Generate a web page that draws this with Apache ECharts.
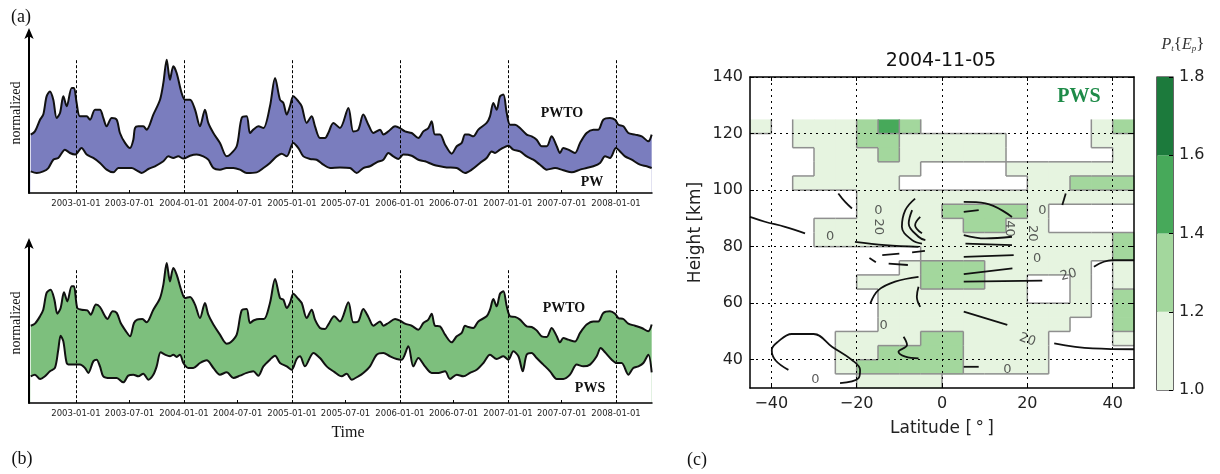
<!DOCTYPE html>
<html>
<head>
<meta charset="utf-8">
<script src="https://cdn.jsdelivr.net/npm/echarts@6/dist/echarts.min.js"></script>
<style>
html, body { margin: 0; padding: 0; background: #fff; }
#chart { width: 1220px; height: 474px; }
</style>
</head>
<body>
<div id="chart"></div>
<script>
// ---- panels (a) and (b): time in decimal years, normalized values 0..100 ----
const xTickLabels = ['2003-01-01', '2003-07-01', '2004-01-01', '2004-07-01', '2005-01-01', '2005-07-01',
  '2006-01-01', '2006-07-01', '2007-01-01', '2007-07-01', '2008-01-01'];
const yearLines = [2003, 2004, 2005, 2006, 2007, 2008];

const pwtoA = [[2002.581,36.5],[2002.620,38.5],[2002.667,45.8],[2002.697,49],[2002.728,60.4],[2002.759,63.5],[2002.790,58.3],[2002.821,46.9],[2002.852,50],[2002.883,60.4],[2002.914,54.2],[2002.960,65.6],[2002.981,65.6],[2003.006,56.3],[2003.037,47.9],[2003.099,47.9],[2003.130,45.8],[2003.176,52.1],[2003.222,52.1],[2003.253,46.9],[2003.284,41.7],[2003.331,46.9],[2003.377,45.8],[2003.407,37.5],[2003.454,31.3],[2003.500,28.1],[2003.531,33.3],[2003.546,40.6],[2003.577,41.7],[2003.623,41.7],[2003.654,39.6],[2003.716,49],[2003.778,58.3],[2003.809,68.8],[2003.840,83.3],[2003.870,70.8],[2003.901,79.2],[2003.932,75],[2003.978,62.5],[2004.009,58.3],[2004.056,58.3],[2004.102,52.1],[2004.148,41.7],[2004.194,52.1],[2004.225,43.8],[2004.272,37.5],[2004.333,31.3],[2004.395,22.9],[2004.426,24],[2004.488,29.2],[2004.534,46.9],[2004.580,47.9],[2004.611,37.5],[2004.642,39.6],[2004.688,41.7],[2004.735,40.6],[2004.796,54.2],[2004.843,71.9],[2004.889,58.3],[2004.920,56.3],[2004.951,49],[2004.981,54.2],[2005.012,60.4],[2005.059,57.3],[2005.090,54.2],[2005.136,43.8],[2005.182,47.9],[2005.213,41.7],[2005.259,34.4],[2005.306,34.4],[2005.336,37.5],[2005.383,43.8],[2005.444,40.6],[2005.522,53.1],[2005.568,38.5],[2005.614,39.6],[2005.660,49],[2005.707,42.7],[2005.753,37.5],[2005.815,39.6],[2005.846,36.5],[2005.892,38.5],[2005.954,41.7],[2006.000,40.6],[2006.046,38.5],[2006.108,37.5],[2006.170,34.4],[2006.216,38.5],[2006.262,40.6],[2006.293,44.8],[2006.324,36.5],[2006.370,36.5],[2006.417,30.2],[2006.478,24.6],[2006.525,29.2],[2006.571,31.3],[2006.602,36.5],[2006.633,36.5],[2006.679,35.4],[2006.725,39.6],[2006.802,43.8],[2006.833,47.9],[2006.864,56.3],[2006.895,52.1],[2006.926,60.4],[2006.957,61.5],[2006.988,50],[2007.019,42.7],[2007.065,42.7],[2007.111,40.6],[2007.173,36.5],[2007.219,35.4],[2007.265,33.3],[2007.312,29.2],[2007.358,29.2],[2007.404,35.4],[2007.451,29.2],[2007.481,25],[2007.512,28.1],[2007.558,27.1],[2007.620,25],[2007.667,31.3],[2007.728,37.5],[2007.790,39.6],[2007.836,39.6],[2007.882,45.8],[2007.944,46.9],[2007.991,45.8],[2008.022,42.7],[2008.068,41.7],[2008.114,37.5],[2008.176,36.5],[2008.238,35.4],[2008.299,32.3],[2008.330,36.5]];

const pwA = [[2002.581,13.5],[2002.636,12.5],[2002.697,13.5],[2002.744,15.6],[2002.790,20.8],[2002.836,21.9],[2002.898,27.1],[2002.944,25],[2002.991,24],[2003.052,28.1],[2003.099,24],[2003.160,21.9],[2003.222,18.8],[2003.284,14.6],[2003.346,12.9],[2003.392,15.6],[2003.454,15.6],[2003.515,15.6],[2003.562,14.2],[2003.608,12.5],[2003.670,15],[2003.731,16.7],[2003.809,19.8],[2003.855,22.9],[2003.901,21.9],[2003.947,22.9],[2003.994,21.5],[2004.056,23.3],[2004.117,24],[2004.179,22.9],[2004.225,20.8],[2004.272,15.6],[2004.333,14.6],[2004.395,15.6],[2004.457,15.6],[2004.518,14.6],[2004.580,12.5],[2004.673,12.9],[2004.735,15.6],[2004.796,18.8],[2004.858,22.9],[2004.904,24.6],[2004.951,22.9],[2005.012,31.3],[2005.059,28.1],[2005.105,22.9],[2005.167,21.3],[2005.228,20.8],[2005.290,17.7],[2005.352,15.6],[2005.444,16],[2005.537,15.6],[2005.599,12.5],[2005.660,15.6],[2005.722,16.7],[2005.784,19.2],[2005.846,20.8],[2005.892,25],[2005.938,22.9],[2005.985,21.3],[2006.031,24],[2006.108,23.3],[2006.170,20.8],[2006.231,19.8],[2006.309,17.7],[2006.370,16.7],[2006.432,16],[2006.525,15.6],[2006.602,12.5],[2006.664,14.6],[2006.741,18.8],[2006.802,21.9],[2006.849,26],[2006.880,25],[2006.926,27.1],[2007.003,29.6],[2007.049,27.1],[2007.111,26],[2007.173,22.9],[2007.234,20.8],[2007.296,17.7],[2007.358,14.6],[2007.435,15.6],[2007.512,14.2],[2007.590,12.9],[2007.667,14.6],[2007.728,15.6],[2007.790,16.7],[2007.852,18.8],[2007.898,22.9],[2007.944,21.9],[2008.000,28.1],[2008.037,26],[2008.083,22.9],[2008.145,20.8],[2008.222,17.7],[2008.284,16.7],[2008.330,15.6]];

const pwtoB = [[2002.581,48.3],[2002.620,49.6],[2002.667,54.2],[2002.697,58.3],[2002.728,68.8],[2002.765,70.8],[2002.800,64.6],[2002.827,55.8],[2002.858,59.4],[2002.889,69.2],[2002.920,63.5],[2002.960,72.9],[2002.981,72.9],[2003.012,59.4],[2003.052,58.3],[2003.105,57.9],[2003.136,55.2],[2003.185,61.5],[2003.222,60],[2003.269,54.2],[2003.290,52.5],[2003.340,57.3],[2003.377,56.3],[2003.414,50],[2003.463,44.8],[2003.500,41.7],[2003.537,50],[2003.568,52.1],[2003.614,52.5],[2003.654,50.4],[2003.716,58.3],[2003.778,65.6],[2003.809,74],[2003.840,87.5],[2003.870,76],[2003.901,84.4],[2003.932,80.2],[2003.978,69.8],[2004.009,65.6],[2004.056,66.3],[2004.102,61.5],[2004.148,53.1],[2004.194,62.5],[2004.225,55.2],[2004.272,49],[2004.333,42.7],[2004.395,37.1],[2004.432,37.9],[2004.488,42.7],[2004.534,57.9],[2004.580,58.8],[2004.611,50],[2004.648,51.7],[2004.698,52.5],[2004.741,52.5],[2004.796,62.5],[2004.843,77.5],[2004.889,65.6],[2004.920,64.6],[2004.951,59.4],[2004.981,62.5],[2005.012,68.3],[2005.059,65],[2005.090,62.5],[2005.136,53.1],[2005.182,58.3],[2005.213,52.1],[2005.259,46.9],[2005.306,46.3],[2005.336,49],[2005.390,54.2],[2005.444,51],[2005.522,62.9],[2005.568,50.4],[2005.614,51],[2005.660,58.8],[2005.707,53.8],[2005.753,48.3],[2005.815,51],[2005.846,48.3],[2005.892,50],[2005.954,52.5],[2006.000,51.5],[2006.046,49.6],[2006.108,48.3],[2006.170,45.8],[2006.216,50],[2006.262,52.1],[2006.293,55.8],[2006.324,48.3],[2006.370,47.9],[2006.417,42.7],[2006.478,37.9],[2006.525,41.7],[2006.571,43.8],[2006.602,48.3],[2006.633,47.5],[2006.679,46.9],[2006.725,51],[2006.802,54.2],[2006.833,58.3],[2006.864,65],[2006.895,60.4],[2006.926,68.3],[2006.957,69.8],[2006.988,60.4],[2007.019,54.2],[2007.065,53.8],[2007.111,52.1],[2007.173,47.9],[2007.219,47.5],[2007.265,45.4],[2007.312,41.7],[2007.358,41.3],[2007.404,46.9],[2007.451,41.7],[2007.481,37.9],[2007.512,40.6],[2007.558,39.6],[2007.620,38.5],[2007.667,43.8],[2007.728,49],[2007.790,51],[2007.836,51],[2007.882,56.3],[2007.944,57.3],[2007.991,55.8],[2008.022,53.1],[2008.068,52.5],[2008.114,49.6],[2008.176,48.3],[2008.238,46.9],[2008.299,44.8],[2008.330,49]];

const pwsB = [[2002.581,16.7],[2002.620,17.7],[2002.667,15],[2002.713,16.7],[2002.759,19.8],[2002.805,21.9],[2002.836,33.3],[2002.858,42.1],[2002.883,38.5],[2002.914,25],[2002.944,24],[2002.981,24],[2003.037,24],[2003.083,21.9],[2003.114,18.8],[2003.160,26],[2003.191,27.1],[2003.222,22.9],[2003.253,16.7],[2003.315,15.6],[2003.377,15.6],[2003.438,12.9],[2003.484,17.1],[2003.531,17.7],[2003.577,16.7],[2003.623,18.3],[2003.670,14.6],[2003.716,17.7],[2003.747,22.9],[2003.784,31.7],[2003.824,30.2],[2003.870,29.2],[2003.901,30.2],[2003.932,28.8],[2003.963,30.2],[2003.994,25],[2004.040,21.9],[2004.086,21.9],[2004.148,25],[2004.210,26.7],[2004.272,21.9],[2004.333,17.7],[2004.395,19.2],[2004.457,15.6],[2004.518,17.1],[2004.580,18.8],[2004.642,19.8],[2004.688,17.1],[2004.735,22.9],[2004.796,27.1],[2004.843,29.6],[2004.889,25],[2004.951,22.9],[2004.997,20.8],[2005.043,27.5],[2005.074,29.2],[2005.120,22.9],[2005.198,31.3],[2005.259,28.1],[2005.321,22.9],[2005.390,19.5],[2005.460,16.7],[2005.506,18.3],[2005.553,14.6],[2005.614,16.7],[2005.660,18.8],[2005.722,22.9],[2005.784,30.2],[2005.846,31.3],[2005.907,29.2],[2005.969,27.5],[2006.015,27.1],[2006.077,35.4],[2006.123,22.9],[2006.170,28.1],[2006.231,22.9],[2006.293,18.8],[2006.355,18.8],[2006.417,19.8],[2006.463,15],[2006.525,17.7],[2006.586,16.7],[2006.648,18.8],[2006.710,20.8],[2006.772,25],[2006.833,30.2],[2006.895,27.5],[2006.957,29.2],[2007.003,27.1],[2007.049,32.3],[2007.096,29.2],[2007.136,19.8],[2007.173,30.2],[2007.219,31.3],[2007.265,28.1],[2007.327,24],[2007.389,19.8],[2007.451,15],[2007.512,15],[2007.574,17.7],[2007.636,24],[2007.698,22.9],[2007.759,24],[2007.821,29.2],[2007.858,34.4],[2007.898,31.7],[2007.960,27.1],[2008.006,25],[2008.052,25],[2008.114,17.7],[2008.160,21.9],[2008.207,22.9],[2008.253,25],[2008.299,30.2],[2008.330,19.2]];

// ---- panel (c): P_t{E_p} on a 5 deg x 5 km grid, rows from top (122.5 km) to bottom ----
const lats = [-42.5,-37.5,-32.5,-27.5,-22.5,-17.5,-12.5,-7.5,-2.5,2.5,7.5,12.5,17.5,22.5,27.5,32.5,37.5,42.5];
const heights = [122.5,117.5,112.5,107.5,102.5,97.5,92.5,87.5,82.5,77.5,72.5,67.5,62.5,57.5,52.5,47.5,42.5,37.5,32.5];
const pwsRatio = [
  [1.1,0.9,1.1,1.1,1.1,1.3,1.5,1.3,0.9,0.9,0.9,0.9,0.9,0.9,0.9,0.9,1.1,1.3],
  [0.9,0.9,1.1,1.1,1.1,1.3,1.3,1.1,1.1,1.1,1.1,1.1,0.9,0.9,0.9,0.9,1.1,1.1],
  [0.9,0.9,0.9,1.1,1.1,1.1,1.3,1.1,1.1,1.1,1.1,1.1,0.9,0.9,0.9,0.9,0.9,1.1],
  [0.9,0.9,0.9,1.1,1.1,1.1,1.1,1.1,0.9,0.9,0.9,0.9,1.1,1.1,1.1,1.1,1.1,1.1],
  [0.9,0.9,1.1,1.1,1.1,1.1,1.1,0.9,0.9,0.9,0.9,0.9,0.9,1.1,1.1,1.3,1.3,1.3],
  [0.9,0.9,0.9,0.9,0.9,1.1,1.1,1.1,1.1,1.1,1.1,1.1,1.1,1.1,1.1,1.1,1.1,1.1],
  [0.9,0.9,0.9,0.9,0.9,1.1,1.1,1.1,1.1,1.3,1.3,1.3,1.3,1.1,0.9,0.9,0.9,0.9],
  [0.9,0.9,0.9,1.1,1.1,1.1,1.1,1.1,1.1,1.1,1.3,1.3,1.1,1.1,0.9,0.9,0.9,0.9],
  [0.9,0.9,0.9,1.1,1.1,1.1,1.1,1.1,1.1,1.1,1.1,1.1,1.1,1.1,1.1,1.1,1.1,1.3],
  [0.9,0.9,0.9,0.9,0.9,0.9,0.9,0.9,1.1,1.1,1.1,1.1,1.1,1.1,1.1,1.1,1.1,1.3],
  [0.9,0.9,0.9,0.9,0.9,0.9,0.9,1.1,1.3,1.3,1.3,1.1,1.1,1.1,1.1,1.1,0.9,1.1],
  [0.9,0.9,0.9,0.9,0.9,1.1,1.1,1.1,1.3,1.3,1.3,1.1,1.1,0.9,0.9,1.1,0.9,1.1],
  [0.9,0.9,0.9,0.9,0.9,0.9,1.1,1.1,1.1,1.1,1.1,1.1,1.1,0.9,0.9,1.1,0.9,1.3],
  [0.9,0.9,0.9,0.9,0.9,0.9,1.1,1.1,1.1,1.1,1.1,1.1,1.1,1.1,1.1,1.1,0.9,1.3],
  [0.9,0.9,0.9,0.9,0.9,0.9,1.1,1.1,1.1,1.1,1.1,1.1,1.1,1.1,1.1,0.9,0.9,1.3],
  [0.9,0.9,0.9,0.9,1.1,1.1,1.1,1.1,1.3,1.3,1.1,1.1,1.1,1.1,0.9,0.9,0.9,1.1],
  [0.9,0.9,0.9,0.9,1.1,1.1,1.3,1.3,1.3,1.3,1.1,1.1,1.1,1.1,0.9,0.9,0.9,0.9],
  [0.9,0.9,0.9,0.9,1.1,1.3,1.3,1.3,1.3,1.3,1.1,1.1,1.1,1.1,0.9,0.9,0.9,0.9],
  [0.9,0.9,0.9,0.9,0.9,1.1,1.1,1.1,1.1,0.9,0.9,0.9,0.9,0.9,0.9,0.9,0.9,0.9]
];
const latTicks = [-40, -20, 0, 20, 40];
const heightTicks = [40, 60, 80, 100, 120, 140];
const cbLevels = [1.0, 1.2, 1.4, 1.6, 1.8];
const cbColors = ['#e6f4e0', '#a3d79d', '#47a95a', '#1c7a3c'];

// black contour lines of the second field, [lat, height]
const contourLines = [
  [[-36,36.4],[-39.1,39.9],[-39.9,43.4],[-38.4,46.4],[-35.2,49.1],[-30.1,49.1],[-25.8,44.6],[-21.1,39.9],[-19.2,36.4],[-19.6,33.4],[-23.9,31.7]],
  [[-45,90.5],[-41.5,88.8],[-36.8,87],[-32.1,84.7]],
  [[-24.3,98.8],[-22.7,95.8],[-21.1,93.5]],
  [[-20.4,81.7],[-13.3,80.5],[-5.5,79.9]],
  [[-6.3,97],[-8.6,92.9],[-9.4,87],[-7,82.3],[-4.7,81.1]],
  [[-7,92.9],[-7.8,88.2],[-5.5,83.5],[-3.9,82.3]],
  [[-5.1,90.5],[-6.3,87.6],[-4.7,84.7]],
  [[-16.8,59.9],[-14.9,64.6],[-11,67.6],[-5.5,69.3]],
  [[-5.5,65.8],[-5.9,62.3],[-5.1,58.7]],
  [[-9,48.1],[-8.2,45.2],[-10.2,42.8],[-8.6,41.1],[-5.5,40.5]],
  [[5.1,76.4],[16.8,77]],
  [[5.1,70.3],[16.5,72.3]],
  [[5.1,67.6],[23.5,68]],
  [[5.1,57],[15.3,52.3]],
  [[26.3,45.8],[35.3,44],[45,43.7]],
  [[35.6,72.9],[39.9,75.2],[45,75.2]],
  [[5.1,37.5],[8.6,37.5]],
  [[5.1,95.8],[10.2,95.3],[16.4,90.5]],
  [[5.1,92.3],[8.6,92.9]],
  [[5.1,84.1],[10.2,82.9],[16.4,83.5]],
  [[5.5,81.1],[16.4,80.5]],
  [[28.2,94.7],[29,98.8]],
  [[-17,76],[-15.5,74.5]],
  [[-14,77],[-10,77.5]],
  [[-12.5,74],[-8,73.5]],
  [[-7,78],[-4,78.5]]
];
// contour labels: [lat, height, text, rotation]
const contourLabels = [
  [-26.2,83.5,'0',0],[-14.9,92.9,'0',0],[-14.9,87,'20',-90],[29.7,70,'20',15],
  [20,47,'20',-20],[15.3,36.4,'0',0],[-13.7,51.9,'0',0],[-29.7,32.8,'0',0],
  [23.5,92.9,'0',0],[15.7,86.4,'40',-90],[21.1,84.7,'20',-90],[22.3,75.8,'0',0]
];

function dateToYear(s) {
  const [y, m, d] = s.split('-').map(Number);
  const start = Date.UTC(y, 0, 1), end = Date.UTC(y + 1, 0, 1);
  return y + (Date.UTC(y, m - 1, d) - start) / (end - start);
}
const xTickPos = xTickLabels.map(dateToYear);
function labelFor(v) {
  const i = xTickPos.findIndex(p => Math.abs(p - v) < 1e-6);
  return i >= 0 ? xTickLabels[i] : '';
}
function level(v) {
  for (let i = 0; i < cbColors.length; i++) {
    if (v >= cbLevels[i] && v < cbLevels[i + 1]) return i;
  }
  return -1;
}
const minus = v => (v < 0 ? '\u2212' + Math.abs(v) : String(v));

const serif = "'Liberation Serif', 'DejaVu Serif', serif";
const sans = "'DejaVu Sans', sans-serif";
const tMin = 2002.565, tMax = 2008.333;

function timeX(gi) {
  return {
    gridIndex: gi, type: 'value', min: tMin, max: tMax, z: 10,
    axisLine: { onZero: false, lineStyle: { color: '#000', width: 1.5 } },
    axisTick: { inside: true, length: 3, customValues: xTickPos, lineStyle: { color: '#000' } },
    axisLabel: { customValues: xTickPos, formatter: labelFor, fontSize: 8.5, color: '#222', fontFamily: sans, margin: 6 },
    splitLine: { show: false }
  };
}
function normY(gi) {
  return {
    gridIndex: gi, type: 'value', min: 0, max: 100, z: 10,
    axisLine: { show: true, onZero: false, symbol: ['none', 'arrow'], symbolSize: [7, 11], symbolOffset: [0, 5],
      lineStyle: { color: '#000', width: 2 } },
    axisTick: { show: false }, axisLabel: { show: false }, splitLine: { show: false },
    name: 'normalized', nameLocation: 'middle', nameGap: 6, nameRotate: 90,
    nameTextStyle: { fontFamily: serif, fontSize: 14, color: '#111' }
  };
}
function band(gi, upper, lower, fill) {
  return [
    { type: 'line', xAxisIndex: gi, yAxisIndex: gi, data: upper, smooth: 0.3, symbol: 'none', z: 2,
      lineStyle: { color: '#111', width: 2 }, areaStyle: { color: fill, opacity: 1, origin: 'start' } },
    { type: 'line', xAxisIndex: gi, yAxisIndex: gi, data: lower, smooth: 0.3, symbol: 'none', z: 3,
      lineStyle: { color: '#111', width: 2 }, areaStyle: { color: '#fff', opacity: 1, origin: 'start' } },
    { type: 'line', xAxisIndex: gi, yAxisIndex: gi, data: [], z: 4,
      markLine: { silent: true, symbol: 'none', label: { show: false },
        lineStyle: { type: [3, 2], color: '#000', width: 1 },
        data: yearLines.map(y => [{ coord: [y, 83] }, { coord: [y, 0] }]) } }
  ];
}

const cells = [];
heights.forEach((h, r) => lats.forEach((lat, c) => cells.push([lat, h, pwsRatio[r][c]])));
const halfLat = (lats[1] - lats[0]) / 2, halfH = (heights[0] - heights[1]) / 2;
const edge = { stroke: '#8f8f8f', lineWidth: 1.5 };

function renderCell(params, api) {
  const idx = params.dataIndex;
  const r = Math.floor(idx / lats.length), c = idx % lats.length;
  const lv = level(api.value(2));
  const p0 = api.coord([api.value(0) - halfLat, api.value(1) + halfH]);
  const p1 = api.coord([api.value(0) + halfLat, api.value(1) - halfH]);
  const children = [];
  if (lv >= 0) {
    children.push({ type: 'rect', z2: 0,
      shape: { x: p0[0], y: p0[1], width: p1[0] - p0[0] + 0.6, height: p1[1] - p0[1] + 0.6 },
      style: { fill: cbColors[lv] } });
  }
  if (c + 1 < lats.length && level(pwsRatio[r][c + 1]) !== lv) {
    children.push({ type: 'line', z2: 10, shape: { x1: p1[0], y1: p0[1], x2: p1[0], y2: p1[1] }, style: edge });
  }
  if (r + 1 < heights.length && level(pwsRatio[r + 1][c]) !== lv) {
    children.push({ type: 'line', z2: 10, shape: { x1: p0[0], y1: p1[1], x2: p1[0], y2: p1[1] }, style: edge });
  }
  return { type: 'group', children };
}

const chart = echarts.init(document.getElementById('chart'), null, { renderer: 'canvas' });

const text = (x, y, str, font, fill) => ({
  type: 'text', x, y, z: 100,
  style: { text: str, font, fill: fill || '#111', align: 'center', verticalAlign: 'middle', textAlign: 'center', textVerticalAlign: 'middle' }
});

chart.setOption({
  animation: false,
  backgroundColor: '#fff',
  grid: [
    { left: 29, top: 33, width: 623, height: 160 },
    { left: 29, top: 243, width: 623, height: 160 },
    { left: 750, top: 77, width: 384, height: 311 },
    { left: 1157, top: 77, width: 16, height: 313, show: true, borderColor: '#000', borderWidth: 1.2 }
  ],
  xAxis: [
    timeX(0), timeX(1),
    { gridIndex: 2, type: 'value', min: -45, max: 45, z: 10,
      axisLine: { onZero: false, lineStyle: { color: '#000', width: 1.5 } },
      axisTick: { inside: true, length: 4, customValues: latTicks, lineStyle: { color: '#000' } },
      axisLabel: { customValues: latTicks, formatter: minus, fontSize: 16, color: '#222', fontFamily: sans, margin: 8 },
      splitLine: { show: true, lineStyle: { type: [2, 4], color: '#000', width: 1 } },
      name: 'Latitude [\u2009°\u2009]', nameLocation: 'middle', nameGap: 32,
      nameTextStyle: { fontFamily: sans, fontSize: 17, color: '#222' } },
    { gridIndex: 2, type: 'value', min: -45, max: 45, position: 'top', z: 10,
      axisLine: { onZero: false, lineStyle: { color: '#000', width: 1.5 } },
      axisTick: { inside: true, length: 4, customValues: latTicks, lineStyle: { color: '#000' } },
      axisLabel: { show: false }, splitLine: { show: false } },
    { gridIndex: 3, type: 'category', data: ['c'], show: false }
  ],
  yAxis: [
    normY(0), normY(1),
    { gridIndex: 2, type: 'value', min: 30, max: 140, z: 10,
      axisLine: { onZero: false, lineStyle: { color: '#000', width: 1.5 } },
      axisTick: { inside: true, length: 4, customValues: heightTicks, lineStyle: { color: '#000' } },
      axisLabel: { customValues: heightTicks, fontSize: 16, color: '#222', fontFamily: sans, margin: 7 },
      splitLine: { show: true, lineStyle: { type: [2, 4], color: '#000', width: 1 } },
      name: 'Height [km]', nameLocation: 'middle', nameGap: 46, nameRotate: 90,
      nameTextStyle: { fontFamily: sans, fontSize: 17, color: '#222' } },
    { gridIndex: 2, type: 'value', min: 30, max: 140, position: 'right', z: 10,
      axisLine: { onZero: false, lineStyle: { color: '#000', width: 1.5 } },
      axisTick: { inside: true, length: 4, customValues: heightTicks, lineStyle: { color: '#000' } },
      axisLabel: { show: false }, splitLine: { show: false } },
    { gridIndex: 3, type: 'value', min: cbLevels[0], max: cbLevels[cbLevels.length - 1], interval: 0.2, position: 'right', z: 10,
      axisLine: { show: false },
      axisTick: { show: true, inside: true, length: 4, lineStyle: { color: '#000' } },
      axisLabel: { fontSize: 16, color: '#222', fontFamily: sans, margin: 6, formatter: v => v.toFixed(1) },
      splitLine: { show: false } }
  ],
  series: [
    ...band(0, pwtoA, pwA, '#7a7dbe'),
    ...band(1, pwtoB, pwsB, '#7dbf7d'),
    { type: 'custom', xAxisIndex: 2, yAxisIndex: 2, data: cells, z: 1, renderItem: renderCell },
    ...contourLines.map(line => ({
      type: 'line', xAxisIndex: 2, yAxisIndex: 2, data: line, smooth: 0.4, symbol: 'none', z: 5,
      lineStyle: { color: '#111', width: 1.8 } })),
    { type: 'scatter', xAxisIndex: 2, yAxisIndex: 2, z: 6, symbolSize: 1, itemStyle: { color: 'rgba(0,0,0,0)' },
      data: contourLabels.map(d => ({ value: [d[0], d[1]], name: d[2],
        label: { show: true, position: 'inside', formatter: '{b}', rotate: d[3], fontSize: 13, color: '#333', fontFamily: sans } })) },
    ...cbColors.map((col, i) => ({
      type: 'bar', xAxisIndex: 4, yAxisIndex: 4, stack: 'cb', barWidth: '100%', clip: true, z: 2,
      itemStyle: { color: col },
      data: [i === 0 ? cbLevels[1] : cbLevels[i + 1] - cbLevels[i]] }))
  ],
  graphic: [
    text(21, 17, '(a)', '18px ' + serif),
    text(22, 459, '(b)', '18px ' + serif),
    text(697, 460, '(c)', '18px ' + serif),
    text(348, 433, 'Time', '16px ' + serif),
    text(562, 113, 'PWTO', 'bold 14px ' + serif),
    text(592, 182, 'PW', 'bold 14px ' + serif),
    text(564, 308, 'PWTO', 'bold 14px ' + serif),
    text(590, 388, 'PWS', 'bold 14px ' + serif),
    text(941, 61, '2004-11-05', '19px ' + sans, '#111'),
    text(1079, 97, 'PWS', 'bold 20px ' + serif, '#1e8b48'),
    { type: 'text', x: 1183, y: 45, z: 100,
      style: { text: '{i|P}{s|t}{{i|E}{s|p}}', font: '17px ' + serif, fill: '#333',
        align: 'center', verticalAlign: 'middle', textAlign: 'center', textVerticalAlign: 'middle',
        rich: {
          i: { fontStyle: 'italic', fontSize: 16, fontFamily: serif, fill: '#333', color: '#333' },
          s: { fontStyle: 'italic', fontSize: 9, fontFamily: serif, fill: '#333', color: '#333', verticalAlign: 'bottom', padding: [8, 0, 0, 0] }
        } } }
  ]
});
</script>
</body>
</html>
